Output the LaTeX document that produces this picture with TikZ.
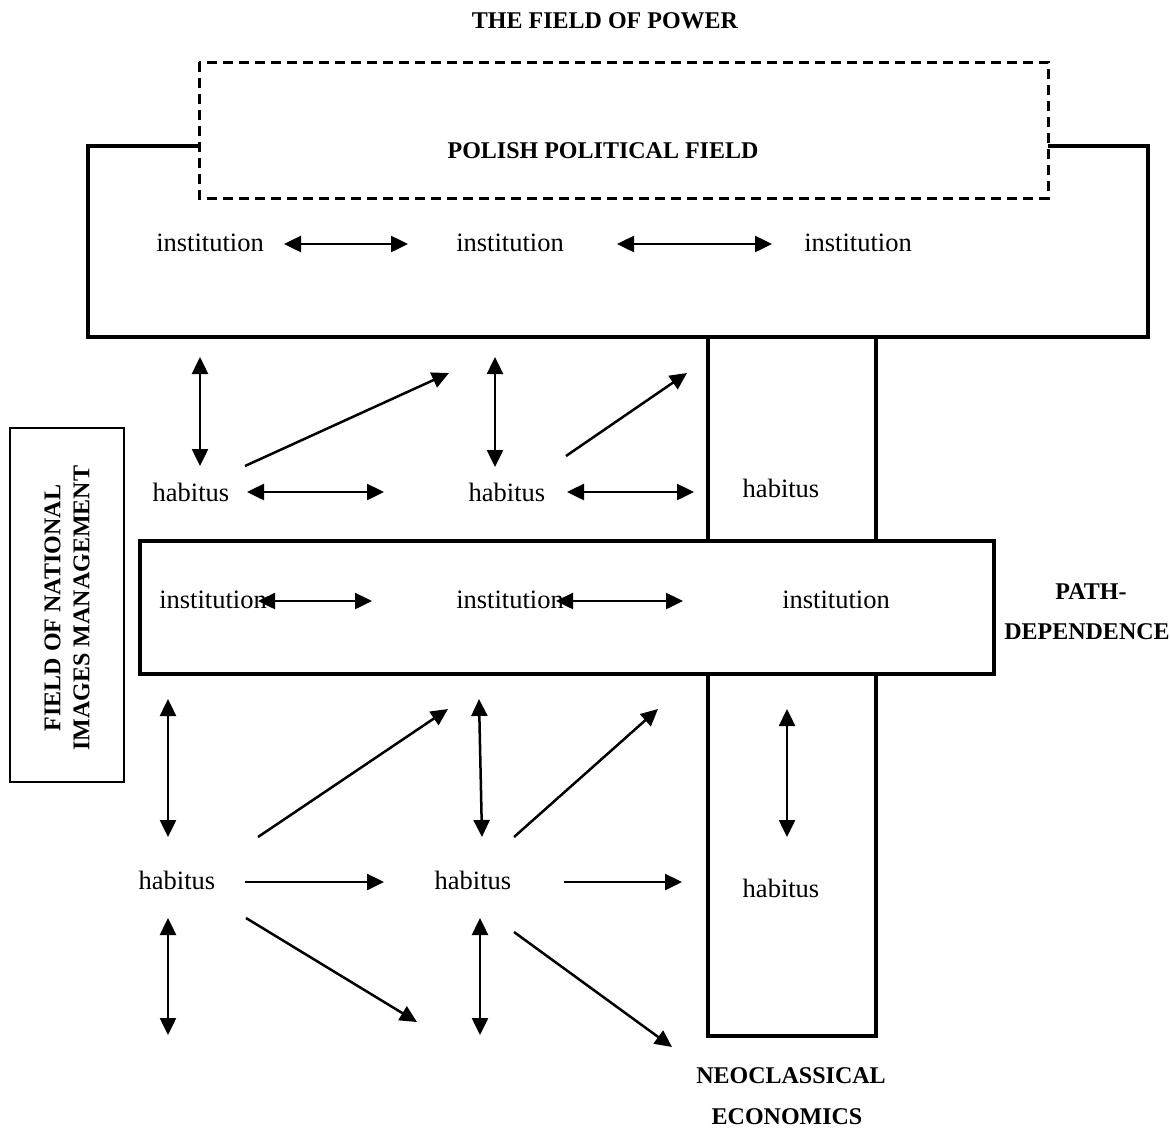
\documentclass[tikz,border=0pt]{standalone}
\usepackage{fontspec}
\setmainfont{Liberation Serif}
\usetikzlibrary{arrows.meta}
\begin{document}
\begin{tikzpicture}[x=1pt,y=-1pt,
  txt/.style={font=\fontsize{26.5}{30}\selectfont, inner sep=0pt},
  lbl/.style={font=\fontsize{24}{29}\selectfont\bfseries, inner sep=0pt, align=center},
  frame/.style={line width=4.6pt, line join=miter},
  colline/.style={line width=4pt},
  dashframe/.style={line width=3pt, dash pattern=on 10pt off 6pt},
  tip/.tip={Triangle[length=17pt,width=16pt]},
  link/.style={line width=2.5pt, -tip},
  both/.style={line width=2.5pt, tip-tip},
]
\useasboundingbox (0,0) rectangle (1170,1128);

% field frames
\draw[frame] (199,146) -- (88,146) -- (88,337) -- (1148,337) -- (1148,146) -- (1048,146);
\draw[dashframe] (199,62) rectangle (1048,198);
\draw[frame] (140,541) rectangle (994,674);
\draw[colline] (708,337) -- (708,541);
\draw[colline] (876,337) -- (876,541);
\draw[colline] (708,674) -- (708,1036) -- (876,1036) -- (876,674);
\draw[line width=2pt] (10,428) rectangle (124,782);

% labels
\node[lbl] (power) at (605,21) {THE FIELD OF POWER};
\node[lbl] (polish) at (603,151) {POLISH POLITICAL FIELD};
\node[lbl, rotate=90] (fnim) at (67,608) {FIELD OF NATIONAL\\IMAGES MANAGEMENT};
\node[lbl] (path1) at (1091,592) {PATH-};
\node[lbl] (path2) at (1087,632) {DEPENDENCE};
\node[lbl] (neo1) at (791,1076) {NEOCLASSICAL};
\node[lbl] (neo2) at (787,1117) {ECONOMICS};

% institutions and habitus
\node[txt] (i1) at (210,243) {institution};
\node[txt] (i2) at (510,243) {institution};
\node[txt] (i3) at (858,243) {institution};
\node[txt] (h1) at (191,492) {habitus};
\node[txt] (h2) at (507,492) {habitus};
\node[txt] (h3) at (781,488) {habitus};
\node[txt] (m1) at (213,600) {institution};
\node[txt] (m2) at (510,600) {institution};
\node[txt] (m3) at (836,600) {institution};
\node[txt] (b1) at (177,880) {habitus};
\node[txt] (b2) at (473,880) {habitus};
\node[txt] (b3) at (781,888) {habitus};

% arrow end points
\coordinate (t1a) at (284,244); \coordinate (t1b) at (408,244);
\coordinate (t2a) at (617,244); \coordinate (t2b) at (772,244);
\coordinate (v1a) at (200,357); \coordinate (v1b) at (200,466);
\coordinate (v2a) at (495,357); \coordinate (v2b) at (495,467);
\coordinate (d1a) at (245,466); \coordinate (d1b) at (449,373);
\coordinate (d2a) at (566,456); \coordinate (d2b) at (687,373);
\coordinate (r1a) at (247,492); \coordinate (r1b) at (384,492);
\coordinate (r2a) at (567,492); \coordinate (r2b) at (694,492);
\coordinate (m1a) at (258,601); \coordinate (m1b) at (372,601);
\coordinate (m2a) at (556,601); \coordinate (m2b) at (683,601);
\coordinate (u1a) at (168,699); \coordinate (u1b) at (168,837);
\coordinate (u2a) at (479,699); \coordinate (u2b) at (482,837);
\coordinate (u3a) at (787,709); \coordinate (u3b) at (787,837);
\coordinate (l1a) at (168,918); \coordinate (l1b) at (168,1035);
\coordinate (l2a) at (480,918); \coordinate (l2b) at (480,1035);
\coordinate (e1a) at (258,837); \coordinate (e1b) at (448,709);
\coordinate (e2a) at (514,837); \coordinate (e2b) at (658,709);
\coordinate (s1a) at (246,918); \coordinate (s1b) at (417,1022);
\coordinate (s2a) at (514,932); \coordinate (s2b) at (672,1047);
\coordinate (f1a) at (245,882); \coordinate (f1b) at (384,882);
\coordinate (f2a) at (564,882); \coordinate (f2b) at (682,882);

% connectors
\draw[both] (t1a) -- (t1b);
\draw[both] (t2a) -- (t2b);
\draw[both] (v1a) -- (v1b);
\draw[both] (v2a) -- (v2b);
\draw[link] (d1a) -- (d1b);
\draw[link] (d2a) -- (d2b);
\draw[both] (r1a) -- (r1b);
\draw[both] (r2a) -- (r2b);
\draw[both] (m1a) -- (m1b);
\draw[both] (m2a) -- (m2b);
\draw[both] (u1a) -- (u1b);
\draw[both] (u2a) -- (u2b);
\draw[both] (u3a) -- (u3b);
\draw[both] (l1a) -- (l1b);
\draw[both] (l2a) -- (l2b);
\draw[link] (e1a) -- (e1b);
\draw[link] (e2a) -- (e2b);
\draw[link] (s1a) -- (s1b);
\draw[link] (s2a) -- (s2b);
\draw[link] (f1a) -- (f1b);
\draw[link] (f2a) -- (f2b);
\end{tikzpicture}
\end{document}
